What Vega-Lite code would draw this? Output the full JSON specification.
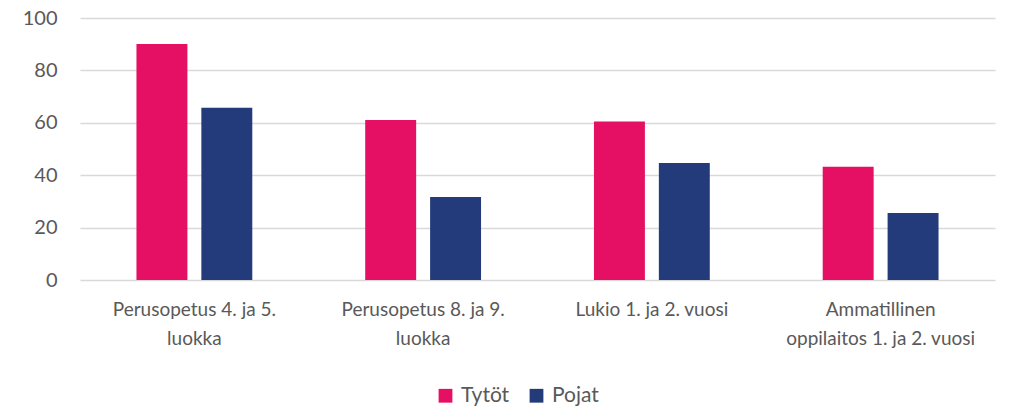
{
  "$schema": "https://vega.github.io/schema/vega-lite/v6.json",
  "width": 915,
  "height": 262,
  "autosize": {"type": "none"},
  "padding": {"left": 80, "top": 18, "right": 15, "bottom": 127},
  "background": "white",
  "config": {"view": {"stroke": null}, "font": "Lato"},
  "data": {
    "values": [
      {"kategoria": "Perusopetus 4. ja 5.|luokka", "sukupuoli": "Tytöt", "arvo": 90.1},
      {"kategoria": "Perusopetus 4. ja 5.|luokka", "sukupuoli": "Pojat", "arvo": 65.7},
      {"kategoria": "Perusopetus 8. ja 9.|luokka", "sukupuoli": "Tytöt", "arvo": 61.1},
      {"kategoria": "Perusopetus 8. ja 9.|luokka", "sukupuoli": "Pojat", "arvo": 31.7},
      {"kategoria": "Lukio 1. ja 2. vuosi", "sukupuoli": "Tytöt", "arvo": 60.5},
      {"kategoria": "Lukio 1. ja 2. vuosi", "sukupuoli": "Pojat", "arvo": 44.7},
      {"kategoria": "Ammatillinen|oppilaitos 1. ja 2. vuosi", "sukupuoli": "Tytöt", "arvo": 43.2},
      {"kategoria": "Ammatillinen|oppilaitos 1. ja 2. vuosi", "sukupuoli": "Pojat", "arvo": 25.6}
    ]
  },
  "mark": {"type": "bar"},
  "encoding": {
    "x": {
      "field": "kategoria",
      "type": "nominal",
      "sort": null,
      "scale": {"paddingInner": 0, "paddingOuter": 0},
      "axis": {
        "title": null,
        "labelAngle": 0,
        "labelExpr": "split(datum.value, '|')",
        "labelFontSize": 19,
        "labelColor": "#595959",
        "labelLineHeight": 29,
        "labelPadding": 20,
        "labelLimit": 400,
        "labelOverlap": false,
        "ticks": false,
        "domain": false,
        "grid": false
      }
    },
    "xOffset": {
      "field": "sukupuoli",
      "type": "nominal",
      "sort": ["Tytöt", "Pojat"],
      "scale": {"paddingInner": 0.215, "paddingOuter": 0.87}
    },
    "y": {
      "field": "arvo",
      "type": "quantitative",
      "scale": {"domain": [0, 100]},
      "axis": {
        "title": null,
        "values": [0, 20, 40, 60, 80, 100],
        "labelFontSize": 20,
        "labelColor": "#595959",
        "labelPadding": 23,
        "ticks": false,
        "domain": false,
        "gridColor": "#d9d9d9",
        "gridWidth": 1.3
      }
    },
    "color": {
      "field": "sukupuoli",
      "type": "nominal",
      "sort": ["Tytöt", "Pojat"],
      "scale": {"domain": ["Tytöt", "Pojat"], "range": ["#E50F63", "#233B7B"]},
      "legend": {
        "title": null,
        "orient": "none",
        "direction": "horizontal",
        "legendX": 355,
        "legendY": 367,
        "symbolType": "square",
        "symbolSize": 190,
        "symbolStrokeWidth": 0,
        "labelFontSize": 21,
        "labelColor": "#595959",
        "labelOffset": 5,
        "columnPadding": 16
      }
    }
  }
}
